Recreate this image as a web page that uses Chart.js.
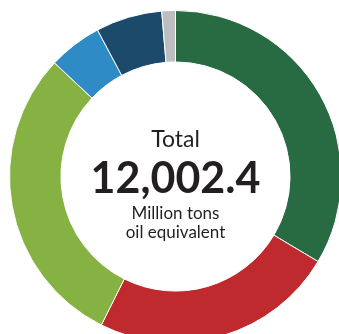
<!DOCTYPE html>
<html>
<head>
<meta charset="utf-8">
<script src="https://cdn.jsdelivr.net/npm/chart.js@4"></script>
<style>
  html, body { margin: 0; padding: 0; background: #fff; overflow: hidden; width: 339px; height: 334px; }
  #wrap { position: absolute; left: 9px; top: 10px; width: 333px; height: 333px; }
</style>
</head>
<body>
<div id="wrap"><canvas id="energyChart" width="333" height="333"></canvas></div>
<script>
// Consumo de energia primária por fonte (Mtep)
const fuels = ['Oil', 'Natural gas', 'Coal', 'Nuclear energy', 'Hydroelectricity', 'Renewables'];
const consumption = [4028.1, 2858.1, 3555.8, 626.2, 775.6, 158.6];
const fuelColors = ['#286a42', '#bf2a2f', '#86b244', '#2e8bc6', '#1c4a6a', '#bcbec0'];
const centerLines = ['Total', '12,002.4', 'Million tons', 'oil equivalent'];

// Texto no centro do anel
const centerText = {
    id: 'centerText',
    afterDraw(chart) {
        const arc = chart.getDatasetMeta(0).data[0];
        if (!arc) return;
        const { x, y } = arc;
        const ctx = chart.ctx;
        ctx.save();
        ctx.fillStyle = '#231f20';
        ctx.textAlign = 'center';
        ctx.textBaseline = 'alphabetic';
        ctx.font = '23px Lato';
        ctx.fillText(centerLines[0], x, y - 30);
        ctx.font = 'bold 43px Lato';
        ctx.fillText(centerLines[1], x, y + 16);
        ctx.font = '17px Lato';
        ctx.fillText(centerLines[2], x, y + 42);
        ctx.fillText(centerLines[3], x, y + 61);
        ctx.restore();
    }
};

const ctx = document.getElementById('energyChart').getContext('2d');
new Chart(ctx, {
    type: 'doughnut',
    data: {
        labels: fuels,
        datasets: [{
            data: consumption,
            backgroundColor: fuelColors,
            borderColor: '#ffffff',
            borderWidth: 1
        }]
    },
    options: {
        responsive: false,
        animation: false,
        cutout: '69%',
        layout: { padding: 0 },
        plugins: {
            legend: { display: false },
            tooltip: { enabled: false }
        }
    },
    plugins: [centerText]
});
</script>
</body>
</html>
